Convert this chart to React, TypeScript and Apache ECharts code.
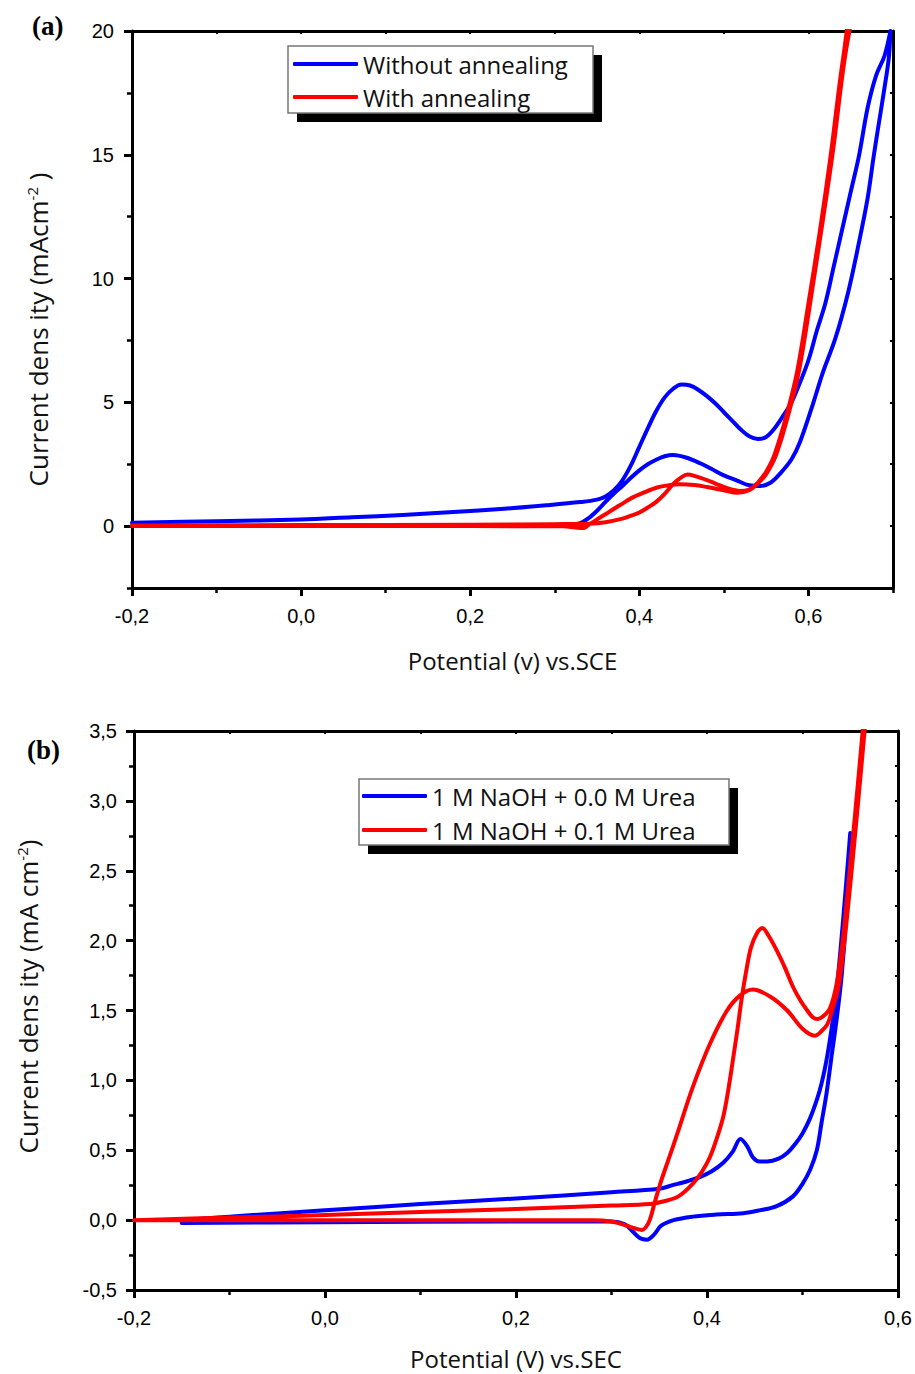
import React, { useEffect, useRef } from 'react';
import * as echarts from 'echarts';

// ---------- Panel (a) data: [potential V, current density mA/cm2] ----------
const blueAForward: [number, number][] = [
  [-0.2, 0.14], [-0.1, 0.2], [0.0, 0.27], [0.06, 0.36], [0.12, 0.45], [0.18, 0.57], [0.24, 0.7],
  [0.29, 0.84], [0.33, 0.97], [0.35, 1.07], [0.36, 1.2], [0.37, 1.45], [0.38, 1.85], [0.39, 2.45],
  [0.4, 3.2], [0.41, 3.95], [0.42, 4.65], [0.43, 5.2], [0.44, 5.55], [0.45, 5.72], [0.46, 5.68],
  [0.47, 5.5], [0.48, 5.25], [0.49, 4.95], [0.5, 4.6], [0.51, 4.25], [0.52, 3.9], [0.53, 3.63],
  [0.54, 3.52], [0.55, 3.6], [0.56, 3.95], [0.57, 4.45], [0.58, 5.0], [0.59, 5.8], [0.6, 6.7],
  [0.61, 7.9], [0.62, 9.0], [0.63, 10.5], [0.64, 12.0], [0.65, 13.5], [0.66, 15.0], [0.67, 16.9],
  [0.68, 18.2], [0.69, 19.0], [0.697, 20.0],
];
const blueAReverse: [number, number][] = [
  [0.695, 18.9], [0.689, 17.5], [0.682, 16.0], [0.677, 14.9], [0.67, 13.25], [0.66, 11.5],
  [0.647, 9.45], [0.632, 7.6], [0.617, 6.2], [0.605, 4.9], [0.59, 3.4], [0.58, 2.7], [0.567, 2.14],
  [0.555, 1.75], [0.543, 1.62], [0.53, 1.65], [0.515, 1.85], [0.5, 2.05], [0.485, 2.32],
  [0.472, 2.54], [0.455, 2.77], [0.44, 2.87], [0.43, 2.82], [0.42, 2.68], [0.41, 2.5], [0.4, 2.25],
  [0.39, 1.95], [0.38, 1.62], [0.37, 1.32], [0.36, 0.98], [0.35, 0.62], [0.34, 0.32], [0.33, 0.12],
  [0.31, 0.04], [0.2, 0.02], [0.0, 0.01], [-0.2, 0.0],
];
const redAForward: [number, number][] = [
  [-0.2, 0.02], [0.0, 0.04], [0.2, 0.06], [0.3, 0.08], [0.34, 0.1], [0.36, 0.16], [0.38, 0.3],
  [0.39, 0.42], [0.4, 0.55], [0.41, 0.75], [0.42, 0.98], [0.43, 1.3], [0.44, 1.7], [0.45, 1.98],
  [0.457, 2.08], [0.465, 2.03], [0.48, 1.86], [0.49, 1.72], [0.504, 1.53], [0.519, 1.42],
  [0.53, 1.48], [0.54, 1.75], [0.55, 2.2], [0.56, 2.9], [0.575, 4.6], [0.587, 6.3], [0.6, 9.0],
  [0.613, 11.8], [0.626, 14.9], [0.641, 18.9], [0.655, 21.5],
];
const redAReverse: [number, number][] = [
  [0.657, 21.5], [0.643, 18.9], [0.628, 14.9], [0.604, 9.45], [0.589, 6.3], [0.577, 4.6],
  [0.562, 2.9], [0.55, 2.1], [0.54, 1.72], [0.53, 1.45], [0.516, 1.35], [0.5, 1.45], [0.48, 1.58],
  [0.465, 1.66], [0.448, 1.69], [0.435, 1.65], [0.421, 1.56], [0.405, 1.35], [0.39, 1.12],
  [0.381, 0.93], [0.37, 0.7], [0.36, 0.48], [0.35, 0.27], [0.34, 0.05], [0.334, -0.08],
  [0.325, -0.06], [0.31, -0.01], [0.2, 0.0], [0.0, 0.0], [-0.2, 0.0],
];

// ---------- Panel (b) data ----------
const blueBForward: [number, number][] = [
  [-0.15, 0.0], [-0.1, 0.025], [0.0, 0.07], [0.1, 0.115], [0.2, 0.155], [0.3, 0.2], [0.35, 0.225],
  [0.364, 0.25], [0.38, 0.28], [0.393, 0.31], [0.405, 0.35], [0.417, 0.41], [0.427, 0.49],
  [0.435, 0.58], [0.442, 0.53], [0.448, 0.45], [0.455, 0.42], [0.463, 0.42], [0.475, 0.44],
  [0.484, 0.48], [0.493, 0.55], [0.5, 0.62], [0.508, 0.73], [0.515, 0.86], [0.52, 0.98],
  [0.525, 1.14], [0.53, 1.35], [0.535, 1.6], [0.54, 1.95], [0.545, 2.35], [0.55, 2.77],
];
const blueBReverse: [number, number][] = [
  [0.546, 2.2], [0.541, 1.75], [0.536, 1.45], [0.53, 1.15], [0.525, 0.9], [0.52, 0.7],
  [0.515, 0.5], [0.508, 0.36], [0.5, 0.26], [0.49, 0.17], [0.473, 0.1], [0.455, 0.07],
  [0.438, 0.05], [0.41, 0.04], [0.385, 0.025], [0.365, 0.0], [0.352, -0.04], [0.345, -0.1],
  [0.337, -0.14], [0.33, -0.13], [0.322, -0.08], [0.314, -0.03], [0.3, -0.01], [0.2, -0.01],
  [0.0, -0.015], [-0.15, -0.02],
];
const redBForward: [number, number][] = [
  [-0.2, 0.0], [-0.1, 0.018], [0.0, 0.036], [0.1, 0.058], [0.2, 0.08], [0.3, 0.104], [0.34, 0.115],
  [0.355, 0.135], [0.37, 0.17], [0.385, 0.26], [0.395, 0.35], [0.403, 0.45], [0.41, 0.58],
  [0.417, 0.74], [0.422, 0.92], [0.427, 1.14], [0.432, 1.37], [0.436, 1.57], [0.441, 1.78],
  [0.446, 1.95], [0.452, 2.05], [0.458, 2.09], [0.464, 2.04], [0.473, 1.93], [0.482, 1.8],
  [0.49, 1.67], [0.498, 1.57], [0.505, 1.5], [0.511, 1.45], [0.516, 1.44], [0.522, 1.46],
  [0.529, 1.52], [0.536, 1.7], [0.543, 2.05], [0.548, 2.4], [0.555, 2.9], [0.563, 3.5], [0.568, 3.9],
];
const redBReverse: [number, number][] = [
  [0.57, 3.9], [0.565, 3.5], [0.557, 2.9], [0.55, 2.4], [0.544, 2.0], [0.538, 1.68], [0.531, 1.5],
  [0.526, 1.4], [0.521, 1.36], [0.513, 1.32], [0.5, 1.37], [0.484, 1.5], [0.466, 1.6],
  [0.448, 1.65], [0.435, 1.61], [0.421, 1.5], [0.403, 1.26], [0.385, 0.95], [0.369, 0.62],
  [0.36, 0.44], [0.351, 0.26], [0.345, 0.12], [0.34, 0.0], [0.336, -0.05], [0.332, -0.07],
  [0.325, -0.06], [0.316, -0.04], [0.3, -0.01], [0.281, 0.0], [0.1, 0.0], [-0.2, 0.0],
];

// ---------- Names, ticks ----------
const seriesNamesA = ['Without annealing', 'With annealing'];
const seriesNamesB = ['1 M NaOH + 0.0 M Urea', '1 M NaOH + 0.1 M Urea'];

const xMajorA = [-0.2, 0, 0.2, 0.4, 0.6];
const xMinorA = [-0.1, 0.1, 0.3, 0.5, 0.7];
const yMajorA = [0, 5, 10, 15, 20];
const yMinorA = [-2.5, 2.5, 7.5, 12.5, 17.5];
const xAllA = [-0.2, -0.1, 0, 0.1, 0.2, 0.3, 0.4, 0.5, 0.6, 0.7];
const yAllA = [-2.5, 0, 2.5, 5, 7.5, 10, 12.5, 15, 17.5, 20];

const TICK_FONT = '"Liberation Sans", Arial, sans-serif';
const TITLE_FONT = '"Open Sans", "Noto Sans", sans-serif';
const BLUE = '#0000ff';
const RED = '#ff0000';

const comma1 = (v: number) => v.toFixed(1).replace('.', ',');

function mainLine(w = 3) {
  return { show: true, onZero: false, lineStyle: { color: '#000', width: w } };
}

export default function App() {
  const ref = useRef<HTMLDivElement>(null);

  useEffect(() => {
    if (!ref.current) return;
    const chart = echarts.init(ref.current, undefined, { renderer: 'svg' });

    const labelStyle = { color: '#000', fontSize: 20, fontFamily: TICK_FONT };
    const xNameStyle = { color: '#111', fontSize: 24, fontFamily: TITLE_FONT, lineHeight: 24 };
    const yNameRich = {
      n: { fontSize: 26, fontFamily: TITLE_FONT, color: '#111', lineHeight: 28 },
      s: { fontSize: 15, fontFamily: TITLE_FONT, color: '#111', verticalAlign: 'top', lineHeight: 28 },
    };
    const noLine = { show: false, onZero: false };

    // overlay axis that only draws ticks at the given values
    const tickOnlyX = (grid: number, min: number, max: number, values: number[], len: number, w: number) => ({
      gridIndex: grid, type: 'value', position: 'bottom', min, max,
      axisLine: noLine,
      axisTick: { show: true, customValues: values, length: len, lineStyle: { width: w, color: '#000' } },
      axisLabel: { show: false }, splitLine: { show: false },
    });
    const tickOnlyY = (grid: number, min: number, max: number, values: number[], len: number, w: number) => ({
      gridIndex: grid, type: 'value', position: 'left', min, max,
      axisLine: noLine,
      axisTick: { show: true, customValues: values, length: len, lineStyle: { width: w, color: '#000' } },
      axisLabel: { show: false }, splitLine: { show: false },
    });

    const xAxis: any[] = [
      // panel a (index 0 = main)
      {
        gridIndex: 0, type: 'value', position: 'bottom', min: -0.2, max: 0.7,
        axisLine: mainLine(3),
        axisTick: { show: false },
        axisLabel: { customValues: xMajorA, formatter: comma1, margin: 18, ...labelStyle },
        splitLine: { show: false },
        name: 'Potential (v) vs.SCE', nameLocation: 'middle', nameGap: 60, nameTextStyle: xNameStyle,
      },
      tickOnlyX(0, -0.2, 0.7, xMajorA, 8, 3),
      tickOnlyX(0, -0.2, 0.7, xMinorA, 5, 2.5),
      {
        gridIndex: 0, type: 'value', position: 'top', min: -0.2, max: 0.7,
        axisLine: mainLine(3),
        axisTick: { show: true, inside: true, customValues: xAllA, length: 3, lineStyle: { width: 2, color: '#000' } },
        axisLabel: { show: false }, splitLine: { show: false },
      },
      // panel b (index 4 = main)
      {
        gridIndex: 1, type: 'value', position: 'bottom', min: -0.2, max: 0.6, interval: 0.2,
        axisLine: mainLine(3),
        axisTick: { show: true, length: 8, lineStyle: { width: 3, color: '#000' } },
        minorTick: { show: true, splitNumber: 2, length: 5, lineStyle: { width: 2.5, color: '#000' } },
        axisLabel: { formatter: comma1, margin: 18, ...labelStyle },
        splitLine: { show: false }, minorSplitLine: { show: false },
        name: 'Potential (V) vs.SEC', nameLocation: 'middle', nameGap: 56, nameTextStyle: xNameStyle,
      },
      {
        gridIndex: 1, type: 'value', position: 'top', min: -0.2, max: 0.6, interval: 0.2,
        axisLine: mainLine(3),
        axisTick: { show: true, inside: true, length: 3, lineStyle: { width: 2, color: '#000' } },
        minorTick: { show: true, splitNumber: 2, length: 3, lineStyle: { width: 2, color: '#000' } },
        axisLabel: { show: false }, splitLine: { show: false },
      },
    ];

    const yAxis: any[] = [
      // panel a (index 0 = main)
      {
        gridIndex: 0, type: 'value', position: 'left', min: -2.5, max: 20,
        axisLine: mainLine(3),
        axisTick: { show: false },
        axisLabel: { customValues: yMajorA, formatter: (v: number) => String(v), margin: 18, ...labelStyle },
        splitLine: { show: false },
        name: '{n|Current dens ity (mAcm}{s|-2}{n| )}', nameLocation: 'middle', nameGap: 80, nameRotate: 90,
        nameTextStyle: { rich: yNameRich, padding: [0, 40, 0, 0] },
      },
      tickOnlyY(0, -2.5, 20, yMajorA, 8, 3),
      tickOnlyY(0, -2.5, 20, yMinorA, 5, 2.5),
      {
        gridIndex: 0, type: 'value', position: 'right', min: -2.5, max: 20,
        axisLine: mainLine(3),
        axisTick: { show: true, inside: true, customValues: yAllA, length: 3, lineStyle: { width: 2, color: '#000' } },
        axisLabel: { show: false }, splitLine: { show: false },
      },
      // panel b (index 4 = main)
      {
        gridIndex: 1, type: 'value', position: 'left', min: -0.5, max: 3.5, interval: 0.5,
        axisLine: mainLine(3),
        axisTick: { show: true, length: 8, lineStyle: { width: 3, color: '#000' } },
        minorTick: { show: true, splitNumber: 2, length: 5, lineStyle: { width: 2.5, color: '#000' } },
        axisLabel: { formatter: comma1, margin: 17, ...labelStyle },
        splitLine: { show: false }, minorSplitLine: { show: false },
        name: '{n|Current dens ity (mA cm}{s|-2}{n|)}', nameLocation: 'middle', nameGap: 92, nameRotate: 90,
        nameTextStyle: { rich: yNameRich, padding: [0, 0, 0, 28] },
      },
      {
        gridIndex: 1, type: 'value', position: 'right', min: -0.5, max: 3.5, interval: 0.5,
        axisLine: mainLine(3),
        axisTick: { show: true, inside: true, length: 3, lineStyle: { width: 2, color: '#000' } },
        minorTick: { show: true, splitNumber: 2, length: 3, lineStyle: { width: 2, color: '#000' } },
        axisLabel: { show: false }, splitLine: { show: false },
      },
    ];

    const lineSeries = (name: string, data: [number, number][], color: string, xi: number, yi: number) => ({
      type: 'line', name, data, xAxisIndex: xi, yAxisIndex: yi,
      symbol: 'none', smooth: 0.35, clip: true,
      lineStyle: { color, width: 4, cap: 'round', join: 'round' },
      itemStyle: { color },
      z: 3,
    });

    const legendText = { fontSize: 24, fontFamily: TITLE_FONT, color: '#111', lineHeight: 26 };

    const option: any = {
      animation: false,
      backgroundColor: '#fff',
      grid: [
        { left: 132, top: 31, width: 761, height: 557, outerBoundsMode: 'none', containLabel: false },
        { left: 134, top: 731, width: 764, height: 559, outerBoundsMode: 'none', containLabel: false },
      ],
      xAxis,
      yAxis,
      legend: [
        {
          data: seriesNamesA, orient: 'vertical', left: 293, top: 51, padding: 0,
          itemWidth: 65, itemHeight: 4, itemGap: 7, icon: 'roundRect',
          textStyle: legendText, selectedMode: false, z: 10,
        },
        {
          data: seriesNamesB, orient: 'vertical', left: 362, top: 783, padding: 0,
          itemWidth: 65, itemHeight: 4, itemGap: 8, icon: 'roundRect',
          textStyle: legendText, selectedMode: false, z: 10,
        },
      ],
      graphic: [
        { type: 'rect', z: 5, shape: { x: 297, y: 55, width: 305, height: 67 }, style: { fill: '#000' } },
        { type: 'rect', z: 6, shape: { x: 288, y: 46, width: 305, height: 67 }, style: { fill: '#fff', stroke: '#777', lineWidth: 1.5 } },
        { type: 'rect', z: 5, shape: { x: 368, y: 788, width: 370, height: 66 }, style: { fill: '#000' } },
        { type: 'rect', z: 6, shape: { x: 359, y: 779, width: 370, height: 66 }, style: { fill: '#fff', stroke: '#777', lineWidth: 1.5 } },
        { type: 'text', left: 32, top: 12, style: { text: '(a)', font: 'bold 27px "Liberation Serif", "Times New Roman", serif', fill: '#000' } },
        { type: 'text', left: 27, top: 736, style: { text: '(b)', font: 'bold 27px "Liberation Serif", "Times New Roman", serif', fill: '#000' } },
      ],
      series: [
        lineSeries(seriesNamesA[0], [...blueAForward, ...blueAReverse], BLUE, 0, 0),
        lineSeries(seriesNamesA[1], [...redAForward, ...redAReverse], RED, 0, 0),
        lineSeries(seriesNamesB[0], [...blueBForward, ...blueBReverse], BLUE, 4, 4),
        lineSeries(seriesNamesB[1], [...redBForward, ...redBReverse], RED, 4, 4),
      ],
    };

    chart.setOption(option);
    return () => chart.dispose();
  }, []);

  return (
    <div
      ref={ref}
      style={{ position: 'absolute', left: 0, top: 0, width: 915, height: 1374, background: '#fff' }}
    />
  );
}
